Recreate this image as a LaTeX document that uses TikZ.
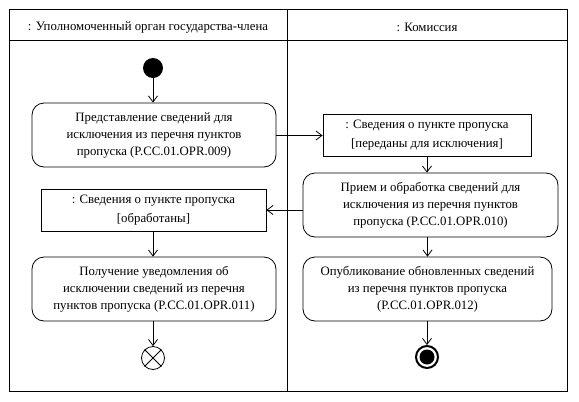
\documentclass[tikz,border=0pt]{standalone}
\usepackage{fontspec}
\setmainfont{Liberation Serif}
\usetikzlibrary{arrows.meta,positioning}

\begin{document}
\begin{tikzpicture}[
      x=1pt, y=-1pt,
      font=\fontsize{12.8}{17}\selectfont,
      line width=0.8pt,
      >={Straight Barb[length=6pt,width=9pt]},
      lane/.style={draw, minimum width=278pt, minimum height=382pt, anchor=north west, inner sep=0pt},
      action/.style={rounded corners=12pt, draw, minimum height=64pt, align=center, inner sep=2pt},
      objectbox/.style={draw, minimum height=42pt, align=center, inner sep=2pt, font=\fontsize{12.8}{19}\selectfont},
]
\useasboundingbox (0,0) rectangle (579,402);

% swimlanes
\node[lane] (lane1) at (9,9) {};
\node[lane, minimum width=280pt] (lane2) at (287,9) {};
\draw (9,40) -- (567,40);
\node (head1) at (148,27) {: Уполномоченный орган государства-члена};
\node (head2) at (427,27) {: Комиссия};

% start
\node[circle, fill=black, minimum size=20pt, inner sep=0pt] (start) at (153,68) {};

\node[action, minimum width=244pt] (act1) at (154,135) {Представление сведений для\\исключения из перечня пунктов\\пропуска (P.CC.01.OPR.009)};
\node[objectbox, minimum width=208pt] (obj1) at (427,135.5) {: Сведения о пункте пропуска\\{}[переданы для исключения]};
\node[action, minimum width=255pt] (act2) at (430.5,205) {Прием и обработка сведений для\\исключения из перечня пунктов\\пропуска (P.CC.01.OPR.010)};
\node[objectbox, minimum width=225pt] (obj2) at (153.5,210.5) {: Сведения о пункте пропуска\\{}[обработаны]};
\node[action, minimum width=244pt] (act3) at (154,289) {Получение уведомления об\\исключении сведений из перечня\\пунктов пропуска (P.CC.01.OPR.011)};
\node[action, minimum width=249pt] (act4) at (427.5,289) {Опубликование обновленных сведений\\из перечня пунктов пропуска\\(P.CC.01.OPR.012)};

% ends
\node[circle, draw, minimum size=23pt, inner sep=0pt] (flowend) at (153,358) {};
\draw (flowend.north east) -- (flowend.south west);
\draw (flowend.north west) -- (flowend.south east);
\node[circle, draw, line width=2pt, minimum size=22pt, inner sep=0pt] (finish) at (427,357) {};
\node[circle, fill=black, minimum size=15pt, inner sep=0pt] (finishdot) at (finish) {};

\draw[->] (start) -- (act1.north -| start);
\draw[->] (act1.east |- obj1) -- (obj1.west);
\draw[->] (obj1.south) -- (act2.north -| obj1);
\draw[->] (act2.west |- 0,210) -- (obj2.east |- 0,210);
\draw[->] (obj2.south -| start) -- (act3.north -| start);
\draw[->] (act3.south -| flowend) -- (flowend);
\draw[->] (act2.south -| act4) -- (act4.north);
\draw[->] (act4.south -| finish) -- (finish);

\end{tikzpicture}
\end{document}
